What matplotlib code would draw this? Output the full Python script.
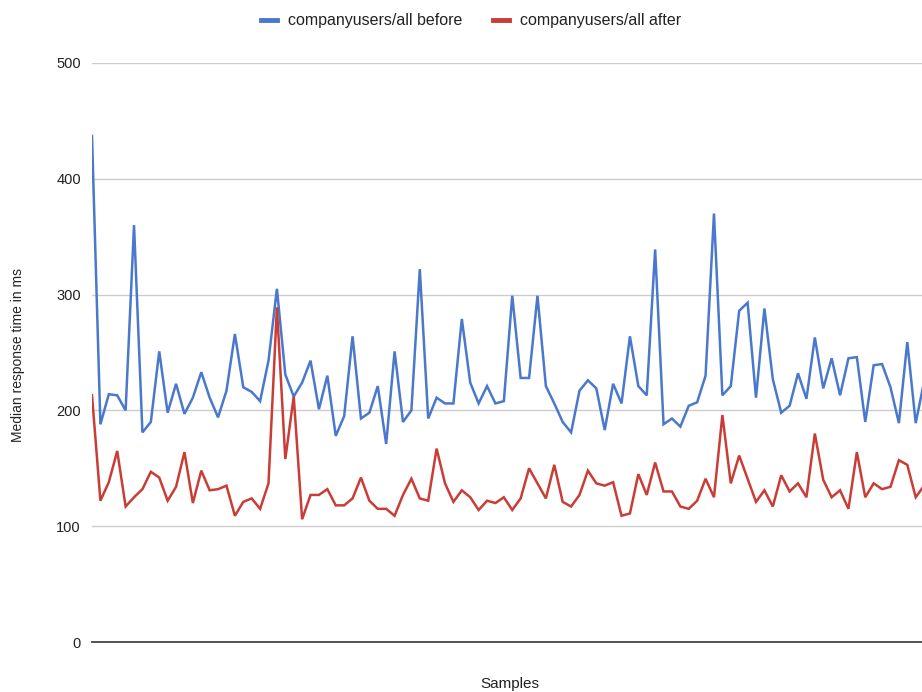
import matplotlib.pyplot as plt
from matplotlib.lines import Line2D

plt.rcParams['font.family'] = ['Liberation Sans', 'DejaVu Sans']

# median response time per sample (ms)
before = [437, 188, 214, 213, 200, 360, 181, 190, 251, 198,
          223, 197, 211, 233, 211, 194, 217, 266, 220, 216,
          208, 243, 305, 231, 212, 224, 243, 201, 230, 178,
          195, 264, 193, 198, 221, 171, 251, 190, 200, 322,
          193, 211, 206, 206, 279, 224, 206, 221, 206, 208,
          299, 228, 228, 299, 221, 206, 190, 181, 217, 226,
          219, 183, 223, 206, 264, 221, 213, 339, 188, 193,
          186, 204, 207, 230, 370, 213, 221, 286, 293, 211,
          288, 227, 198, 204, 232, 210, 263, 219, 245, 213,
          245, 246, 190, 239, 240, 220, 189, 259, 189, 225]
after = [213, 122, 138, 165, 117, 125, 132, 147, 142, 122,
         134, 164, 120, 148, 131, 132, 135, 109, 121, 124,
         115, 137, 289, 158, 212, 106, 127, 127, 132, 118,
         118, 124, 142, 122, 115, 115, 109, 127, 141, 124,
         122, 167, 137, 121, 131, 125, 114, 122, 120, 125,
         114, 124, 150, 137, 124, 153, 121, 117, 127, 148,
         137, 135, 138, 109, 111, 145, 127, 155, 130, 130,
         117, 115, 122, 141, 125, 196, 137, 161, 141, 121,
         131, 117, 144, 130, 137, 125, 180, 140, 125, 131,
         115, 164, 125, 137, 132, 134, 157, 153, 125, 135]

blue = '#4a78cc'
red = '#c93d36'

fig = plt.figure(figsize=(9.22, 6.92), dpi=100)
ax = fig.add_axes([92 / 922, 1 - 642 / 692, 1 - 92 / 922, (642 - 63) / 692])

x = range(len(before))
ax.plot(x, before, color=blue, lw=1.8, solid_joinstyle='miter')
ax.plot(x, after, color=red, lw=1.8, solid_joinstyle='miter')

ax.set_ylim(0, 500)
ax.set_xlim(0, 98.75)
ax.set_yticks([0, 100, 200, 300, 400, 500])
ax.set_xticks([])
ax.grid(axis='y', color='#cccccc', lw=1)
ax.set_axisbelow(True)
for s in ['top', 'right', 'left']:
    ax.spines[s].set_visible(False)
ax.spines['bottom'].set_color('#444444')
ax.spines['bottom'].set_linewidth(1.3)
ax.tick_params(axis='y', length=0, pad=8, labelsize=10.5, labelcolor='#222222')

fig.text(18 / 922, 1 - 355 / 692, 'Median response time in ms', rotation=90,
         ha='center', va='center', fontsize=10, color='#222222')
fig.text(510 / 922, 1 - 684 / 692, 'Samples', ha='center', va='center',
         fontsize=11, color='#222222')

handles = [Line2D([], [], color=blue, lw=3.5), Line2D([], [], color=red, lw=3.5)]
fig.legend(handles, ['companyusers/all before', 'companyusers/all after'],
           loc='center', bbox_to_anchor=(471 / 922, 1 - 21 / 692), ncol=2,
           frameon=False, fontsize=11.5, handlelength=1.0, handletextpad=0.7,
           columnspacing=1.9, labelcolor='#222222')

fig.savefig('out.png', dpi=100)
